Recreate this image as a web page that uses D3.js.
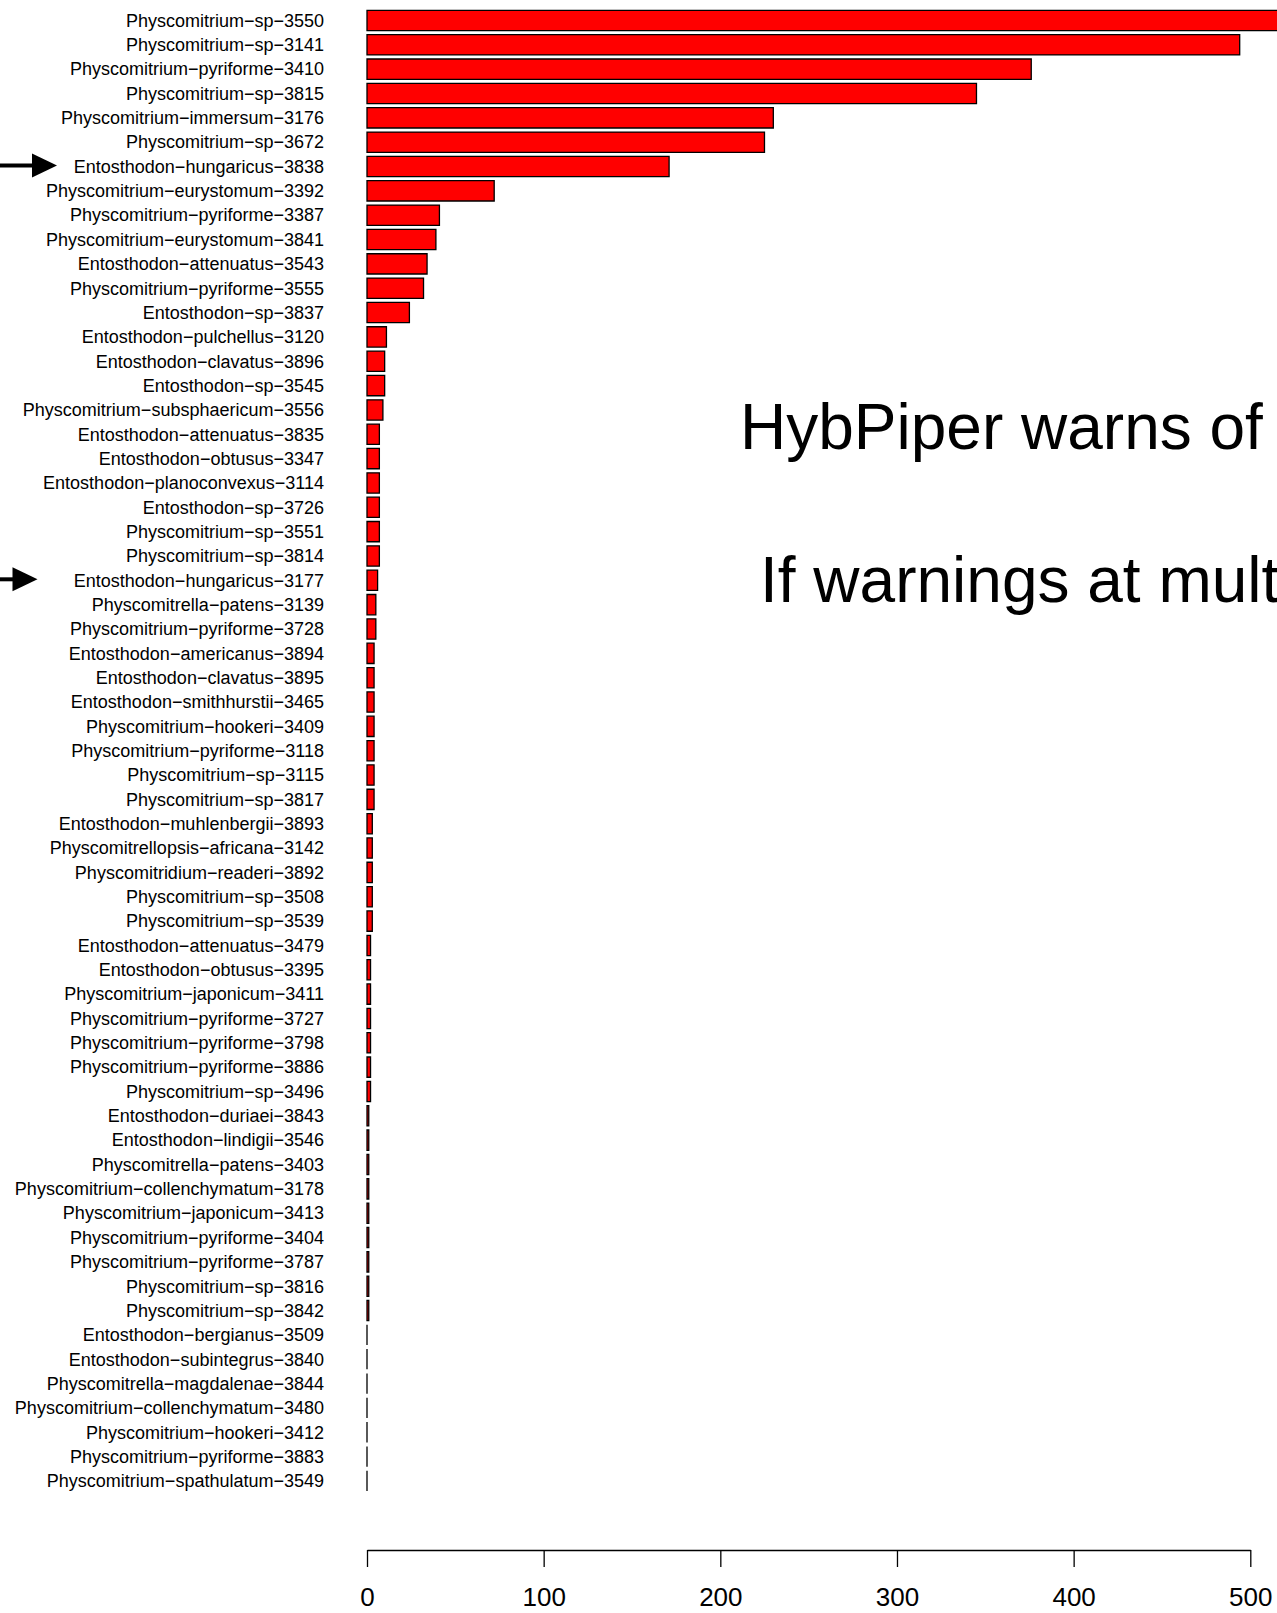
<!DOCTYPE html>
<html>
<head>
<meta charset="utf-8">
<script src="https://cdn.jsdelivr.net/npm/d3@7"></script>
<style>
  html, body { margin: 0; padding: 0; background: #fff; overflow: hidden; }
  svg { display: block; }
</style>
</head>
<body>
<svg id="chart" width="1277" height="1613"></svg>
<script>
// ---- data ----
const samples = [
  "Physcomitrium-sp-3550", "Physcomitrium-sp-3141", "Physcomitrium-pyriforme-3410",
  "Physcomitrium-sp-3815", "Physcomitrium-immersum-3176", "Physcomitrium-sp-3672",
  "Entosthodon-hungaricus-3838", "Physcomitrium-eurystomum-3392", "Physcomitrium-pyriforme-3387",
  "Physcomitrium-eurystomum-3841", "Entosthodon-attenuatus-3543", "Physcomitrium-pyriforme-3555",
  "Entosthodon-sp-3837", "Entosthodon-pulchellus-3120", "Entosthodon-clavatus-3896",
  "Entosthodon-sp-3545", "Physcomitrium-subsphaericum-3556", "Entosthodon-attenuatus-3835",
  "Entosthodon-obtusus-3347", "Entosthodon-planoconvexus-3114", "Entosthodon-sp-3726",
  "Physcomitrium-sp-3551", "Physcomitrium-sp-3814", "Entosthodon-hungaricus-3177",
  "Physcomitrella-patens-3139", "Physcomitrium-pyriforme-3728", "Entosthodon-americanus-3894",
  "Entosthodon-clavatus-3895", "Entosthodon-smithhurstii-3465", "Physcomitrium-hookeri-3409",
  "Physcomitrium-pyriforme-3118", "Physcomitrium-sp-3115", "Physcomitrium-sp-3817",
  "Entosthodon-muhlenbergii-3893", "Physcomitrellopsis-africana-3142", "Physcomitridium-readeri-3892",
  "Physcomitrium-sp-3508", "Physcomitrium-sp-3539", "Entosthodon-attenuatus-3479",
  "Entosthodon-obtusus-3395", "Physcomitrium-japonicum-3411", "Physcomitrium-pyriforme-3727",
  "Physcomitrium-pyriforme-3798", "Physcomitrium-pyriforme-3886", "Physcomitrium-sp-3496",
  "Entosthodon-duriaei-3843", "Entosthodon-lindigii-3546", "Physcomitrella-patens-3403",
  "Physcomitrium-collenchymatum-3178", "Physcomitrium-japonicum-3413", "Physcomitrium-pyriforme-3404",
  "Physcomitrium-pyriforme-3787", "Physcomitrium-sp-3816", "Physcomitrium-sp-3842",
  "Entosthodon-bergianus-3509", "Entosthodon-subintegrus-3840", "Physcomitrella-magdalenae-3844",
  "Physcomitrium-collenchymatum-3480", "Physcomitrium-hookeri-3412", "Physcomitrium-pyriforme-3883",
  "Physcomitrium-spathulatum-3549"
];
const warnings = [
  530, 494, 376, 345, 230, 225, 171, 72, 41, 39,
  34, 32, 24, 11, 10, 10, 9, 7, 7, 7,
  7, 7, 7, 6, 5, 5, 4, 4, 4, 4,
  4, 4, 4, 3, 3, 3, 3, 3, 2, 2,
  2, 2, 2, 2, 2, 1, 1, 1, 1, 1,
  1, 1, 1, 1, 0, 0, 0, 0, 0, 0,
  0
];
const xTicks = [0, 100, 200, 300, 400, 500];
const highlighted = ["Entosthodon-hungaricus-3838", "Entosthodon-hungaricus-3177"];
const notes = ["HybPiper warns of", "If warnings at mult"];

// ---- layout ----
const svg = d3.select("#chart");
const fontFam = "'Liberation Sans', Arial, Helvetica, sans-serif";
const toLabel = s => s.replace(/-/g, "\u2212");

const x = d3.scaleLinear().domain([0, 500]).range([367, 1250.3]);
const y = d3.scaleBand().domain(samples).range([8.3, 1493.1])
  .paddingInner(1 / 6).paddingOuter(1 / 12);

const data = samples.map((s, i) => ({ name: s, value: warnings[i] }));

// bars (paths so zero-width bars still draw their border)
svg.append("g").selectAll("path").data(data).join("path")
  .attr("d", d => {
    const x0 = x(0), x1 = x(d.value), y0 = y(d.name), y1 = y0 + y.bandwidth();
    return `M${x0},${y0}H${x1}V${y1}H${x0}Z`;
  })
  .attr("fill", "#ff0000")
  .attr("stroke", "#000")
  .attr("stroke-width", 1.3);

// category labels
svg.append("g").selectAll("text").data(data).join("text")
  .attr("x", 324)
  .attr("y", d => y(d.name) + y.bandwidth() / 2)
  .attr("dy", "0.35em")
  .attr("text-anchor", "end")
  .attr("font-family", fontFam)
  .attr("font-size", 18)
  .attr("fill", "#000")
  .text(d => toLabel(d.name));

// x axis
const axisY = 1550;
const axis = d3.axisBottom(x).tickValues(xTicks).tickSize(17).tickSizeOuter(0).tickFormat(d3.format("d"));
const gAxis = svg.append("g").attr("transform", `translate(0,${axisY})`).call(axis);
gAxis.select(".domain").attr("stroke", "#000").attr("stroke-width", 1.3);
gAxis.selectAll(".tick line").attr("stroke", "#000").attr("stroke-width", 1.3);
gAxis.selectAll(".tick text")
  .attr("y", 56).attr("dy", 0)
  .attr("font-family", fontFam)
  .attr("font-size", 26)
  .attr("fill", "#000");

// arrows pointing at highlighted samples
const arrowSpecs = [
  { name: highlighted[0], shaftEnd: 33, tip: 57 },
  { name: highlighted[1], shaftEnd: 13, tip: 37.5 }
];
const gArr = svg.append("g");
arrowSpecs.forEach(a => {
  const cy = y(a.name) + y.bandwidth() / 2 - 1;
  gArr.append("line")
    .attr("x1", 0).attr("x2", a.shaftEnd + 2)
    .attr("y1", cy).attr("y2", cy)
    .attr("stroke", "#000").attr("stroke-width", 4);
  const hx = a.tip - 25;
  gArr.append("path")
    .attr("d", `M${hx},${cy - 12}L${a.tip},${cy}L${hx},${cy + 12}Z`)
    .attr("fill", "#000");
});

// large annotation text (cut off at the right edge in the original)
svg.append("text")
  .attr("x", 740).attr("y", 449)
  .attr("font-family", fontFam).attr("font-size", 64).attr("fill", "#000")
  .text(notes[0]);
svg.append("text")
  .attr("x", 760).attr("y", 602)
  .attr("font-family", fontFam).attr("font-size", 64).attr("fill", "#000")
  .text(notes[1]);
</script>
</body>
</html>
